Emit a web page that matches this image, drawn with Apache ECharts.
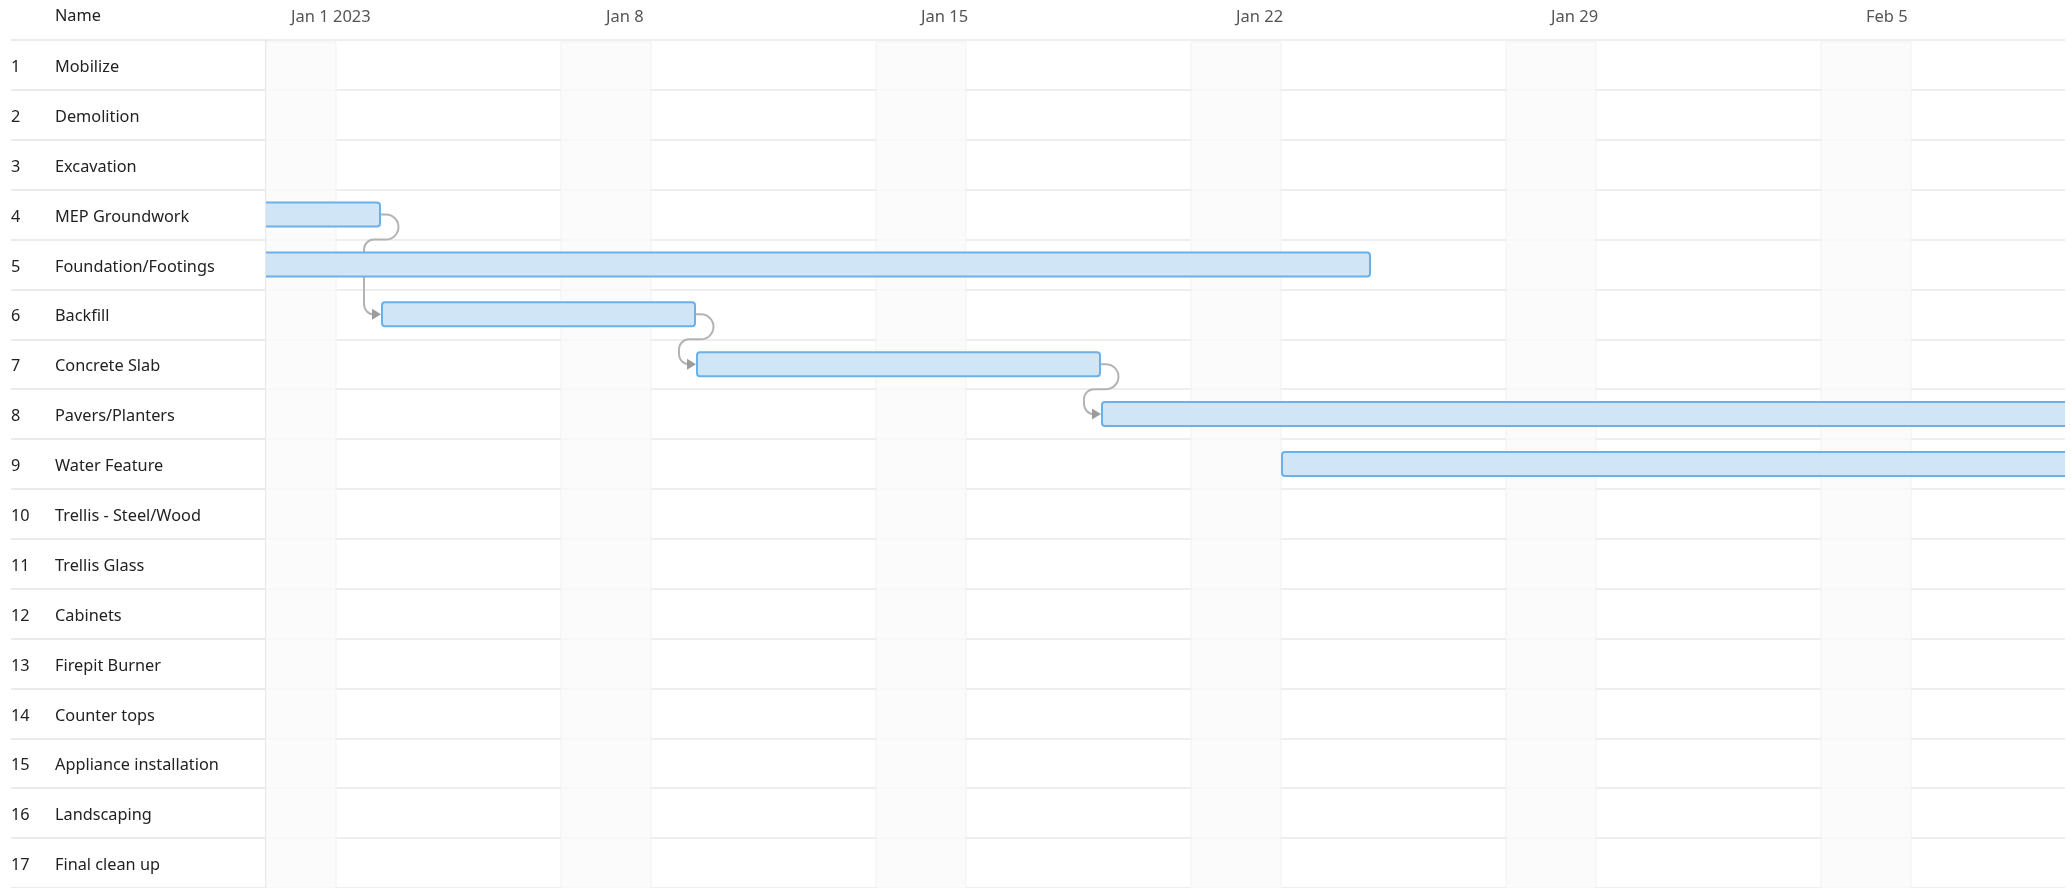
<!DOCTYPE html>
<html><head><meta charset="utf-8">
<script src="https://cdn.jsdelivr.net/npm/echarts@6/dist/echarts.min.js"></script>
<style>html,body{margin:0;padding:0;background:#fff}#c{width:2071px;height:888px}</style>
</head><body><div id="c"></div>
<script>
// ---- data ----
const taskNames = ['Mobilize','Demolition','Excavation','MEP Groundwork','Foundation/Footings','Backfill','Concrete Slab','Pavers/Planters','Water Feature','Trellis - Steel/Wood','Trellis Glass','Cabinets','Firepit Burner','Counter tops','Appliance installation','Landscaping','Final clean up'];
const barRows   = [3, 4, 5, 6, 7, 8];
const barStarts = ['2022-12-29','2022-12-29','2023-01-03','2023-01-10','2023-01-19','2023-01-23'];
const barEnds   = ['2023-01-03','2023-01-25','2023-01-10','2023-01-19','2023-02-20','2023-02-20'];
const linkFrom = [0, 2, 3];
const linkTo   = [2, 3, 4];
const weekendStarts = ['2022-12-31','2023-01-07','2023-01-14','2023-01-21','2023-01-28','2023-02-04'];
const weekendEnds   = ['2023-01-02','2023-01-09','2023-01-16','2023-01-23','2023-01-30','2023-02-06'];
const weekTicks  = ['2023-01-01','2023-01-08','2023-01-15','2023-01-22','2023-01-29','2023-02-05'];
const weekLabels = ['Jan 1 2023','Jan 8','Jan 15','Jan 22','Jan 29','Feb 5'];
const viewStart = '2022-12-31T10:40:00';
const viewEnd   = '2023-02-09T10:08:00';

function t(s){ return new Date(s.length === 10 ? s + 'T00:00:00' : s).getTime(); }
const FONT = '"Noto Sans", sans-serif';

const chart = echarts.init(document.getElementById('c'), null, {renderer:'canvas'});

const barData = barRows.map((r,i)=>[r, t(barStarts[i]), t(barEnds[i])]);
const linkData = linkFrom.map((f,i)=>[barRows[f], t(barEnds[f]), barRows[linkTo[i]], t(barStarts[linkTo[i]])]);
const weekendData = weekendStarts.map((s,i)=>[t(s), t(weekendEnds[i])]);
const tickVals = weekTicks.map(t);

const option = {
  animation: false,
  backgroundColor: '#fff',
  graphic: [{
    type: 'text', left: 55, top: 8,
    style: { text: 'Name', fontSize: 16.3, fill: '#222', fontFamily: FONT }
  }],
  grid: [
    { left: 11, top: 40, width: 254, height: 850 },
    { left: 266, top: 40, right: 6, height: 850 }
  ],
  xAxis: [
    { gridIndex: 0, type: 'value', min: 0, max: 1, show: false },
    { gridIndex: 1, type: 'value', position: 'top', min: t(viewStart), max: t(viewEnd), scale: true,
      axisLine: {show:false}, axisTick: {show:false}, splitLine: {show:false},
      axisLabel: {
        customValues: tickVals, showMinLabel: true, showMaxLabel: true,
        align: 'left', verticalAlign: 'middle', margin: 23,
        fontSize: 16.5, color: '#555', fontFamily: FONT, hideOverlap: false,
        formatter: function(v){ const i = tickVals.indexOf(v); return i >= 0 ? weekLabels[i] : ''; }
      }
    }
  ],
  yAxis: [
    { gridIndex: 0, type: 'category', data: taskNames, inverse: true,
      axisLine: {show:false}, axisTick: {show:false},
      splitLine: {show:true, lineStyle:{color:'#ebebeb', width:2}},
      axisLabel: {
        inside: true, margin: 0, align: 'left',
        formatter: function(v, i){ return '{n|' + (i+1) + '}{t|' + v + '}'; },
        rich: {
          n: {width: 44, fontSize: 16.3, color: '#222', fontFamily: FONT, padding: [5,0,0,0]},
          t: {fontSize: 16.3, color: '#222', fontFamily: FONT, padding: [5,0,0,0]}
        }
      }
    },
    { gridIndex: 1, type: 'category', data: taskNames, inverse: true,
      axisLine: {show:true, lineStyle:{color:'#e8e8e8', width:2}}, axisTick: {show:false},
      axisLabel: {show:false},
      splitLine: {show:true, lineStyle:{color:'#eeeeee', width:2}}
    }
  ],
  series: [
    { type: 'custom', xAxisIndex: 1, yAxisIndex: 1, clip: true, z: 1,
      data: weekendData, encode: {x:[0,1]},
      renderItem: function(params, api){
        const a = api.coord([api.value(0), 0]);
        const b = api.coord([api.value(1), 0]);
        const cs = params.coordSys;
        return { type: 'rect', shape: {x: a[0], y: cs.y + 2, width: b[0]-a[0], height: cs.height},
          style: {fill: 'rgba(250,250,250,0.82)', stroke: '#f1f1f1', lineWidth: 1} };
      }
    },
    { type: 'custom', xAxisIndex: 1, yAxisIndex: 1, clip: true, z: 3,
      data: linkData, encode: {x:[1,3], y:[0,2]},
      renderItem: function(params, api){
        const p1 = api.coord([api.value(1), api.value(0)]);
        const p2 = api.coord([api.value(3), api.value(2)]);
        const half = api.size([0,1])[1] / 2;
        const x1 = p1[0], y1 = p1[1], x2 = p2[0], y2 = p2[1];
        const r1 = half / 2, r2 = 10, vx = x2 - 17;
        const yb = y1 + half;
        const d = 'M' + x1 + ' ' + y1 + ' L' + (x1+5) + ' ' + y1 +
          ' A' + r1 + ' ' + r1 + ' 0 0 1 ' + (x1+5) + ' ' + yb +
          ' L' + (vx + r2) + ' ' + yb +
          ' A' + r2 + ' ' + r2 + ' 0 0 0 ' + vx + ' ' + (yb + r2) +
          ' L' + vx + ' ' + (y2 - r2) +
          ' A' + r2 + ' ' + r2 + ' 0 0 0 ' + (vx + r2) + ' ' + y2 +
          ' L' + (x2 - 7) + ' ' + y2;
        return { type: 'group', children: [
          { type: 'path', shape: {pathData: d}, style: {stroke: '#b4b4b4', lineWidth: 2, fill: null} },
          { type: 'polygon', shape: {points: [[x2-9, y2-5.5],[x2, y2],[x2-9, y2+5.5]]}, style: {fill: '#9c9c9c'} }
        ]};
      }
    },
    { type: 'custom', xAxisIndex: 1, yAxisIndex: 1, clip: true, z: 4,
      data: barData, encode: {x:[1,2], y:0},
      renderItem: function(params, api){
        const a = api.coord([api.value(1), api.value(0)]);
        const b = api.coord([api.value(2), api.value(0)]);
        const h = 24;
        return { type: 'rect', shape: {x: a[0]+1, y: a[1]-h/2, width: b[0]-a[0]-2, height: h, r: 3},
          style: {fill: '#d0e6f6', stroke: '#6cb0e9', lineWidth: 2} };
      }
    }
  ]
};
chart.setOption(option);
</script></body></html>
